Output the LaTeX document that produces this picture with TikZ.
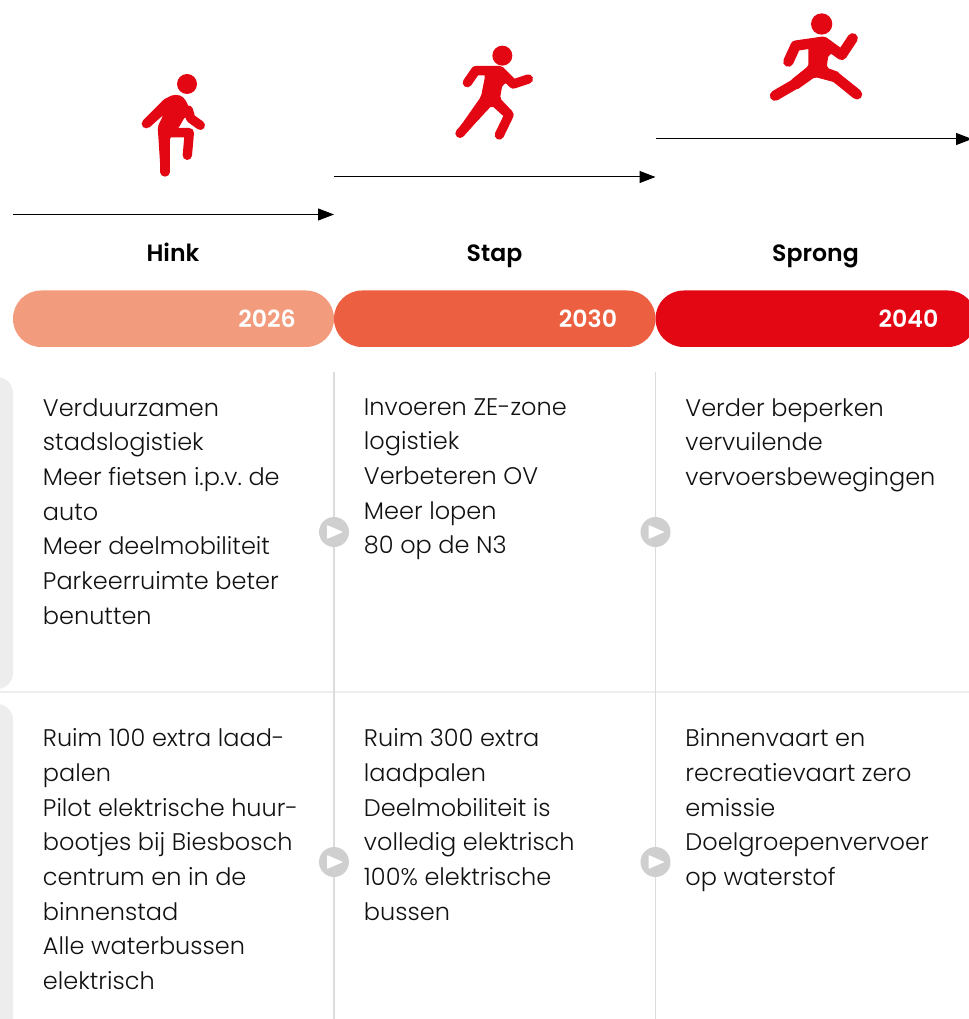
\documentclass[tikz,border=0pt]{standalone}
\usepackage{fontspec}
\setmainfont{Poppins Light}
\newfontfamily\semi{Poppins SemiBold}
\usetikzlibrary{arrows.meta}
\definecolor{redA}{HTML}{F39B7D}
\definecolor{redB}{HTML}{EC5F40}
\definecolor{redC}{HTML}{E30613}
\definecolor{panel}{HTML}{EDEDED}
\definecolor{rule}{HTML}{DCDCDC}
\definecolor{ruleH}{HTML}{EEEEEE}
\definecolor{marker}{HTML}{CFCFCF}
\definecolor{ink}{HTML}{111111}
\tikzset{
  x=0.75pt,y=-0.75pt,
  year/.style={text=white,font=\fontsize{17.7}{20}\selectfont\semi,inner sep=0pt,anchor=base},
  phase/.style={text=black,font=\fontsize{17.7}{20}\selectfont\semi,inner sep=0pt,anchor=base},
  body/.style={text=ink,font=\fontsize{18}{26}\selectfont\frenchspacing,align=left,anchor=north west,inner sep=0pt},
  stage/.style={-{Triangle[length=12pt,width=9pt]},line width=0.75pt,black},
  limb/.style={draw=redC,line width=7pt,line cap=round,line join=round},
  limbB/.style={draw=redC,line width=7.8pt,line cap=round,line join=round},
  markdisc/.style={circle,fill=marker,minimum size=22.5pt,inner sep=0pt},
  tri/.style={fill=white,rounded corners=0.6pt},
  vrule/.style={draw=rule,line width=1.1pt},
  torso/.style={fill=redC,rounded corners=1.5pt},
}
\begin{document}
\begin{tikzpicture}
\useasboundingbox (0,0) rectangle (969,1019);
% panels
\fill[panel,rounded corners=12pt] (-30,377) rectangle (13,689);
\fill[panel,rounded corners=12pt] (-30,704) rectangle (13,1060);
% rules
\coordinate (h1) at (0,692); \coordinate (h2) at (969,692);
\draw[ruleH,line width=0.8pt] (h1) -- (h2);
\coordinate (v1t) at (334,372); \coordinate (v1b) at (334,1019);
\coordinate (v2t) at (655.5,372); \coordinate (v2b) at (655.5,1019);
\draw[vrule] (v1t) -- (v1b);
\draw[vrule] (v2t) -- (v2b);
% markers
\foreach \n/\cx/\cy in {a/334/532,b/655.5/532,c/334/862,d/655.5/862}{
  \node[markdisc] (m\n) at (\cx,\cy) {};
  \fill[tri] ([shift={(-7,-7)}]m\n.center) -- ([shift={(9,0)}]m\n.center) -- ([shift={(-7,7)}]m\n.center) -- cycle;
}
% stage arrows
\coordinate (a1) at (13,214.5); \coordinate (a2) at (334,214.5);
\coordinate (b1) at (334,177); \coordinate (b2) at (655.5,177);
\coordinate (c1) at (655.5,139); \coordinate (c2) at (972,139);
\draw[stage] (a1) -- (a2);
\draw[stage] (b1) -- (b2);
\draw[stage] (c1) -- (c2);
% headers
\node[phase] (hink) at (173,262) {Hink};
\node[phase] (stap) at (494.5,262) {Stap};
\node[phase] (sprong) at (815.5,262) {Sprong};
% pills
\fill[redA,rounded corners=21pt] (13,290.5) rectangle (334,347);
\fill[redB,rounded corners=21pt] (334,290.5) rectangle (655.5,347);
\fill[redC,rounded corners=21pt] (655.5,290.5) rectangle (976,347);
\node[year] (y1) at (267,328) {2026};
\node[year] (y2) at (588,328) {2030};
\node[year] (y3) at (908.5,328) {2040};
% figure 1
\begin{scope}[shift={(120,60)},x=0.25pt,y=-0.25pt]
  \fill[redC] (201,72) circle[radius=30];
  \draw[limb] (79,191) -- (140,130);
  \draw[limb] (205,150) -- (212,175) -- (241,196);
  \draw[limb] (135,205) -- (135,336);
  \draw[limb] (150,218) -- (208,218) -- (202,286);
  \fill[torso] (128,120) -- (160,104) -- (185,107) -- (200,125) -- (216,172) -- (195,170) -- (175,205) -- (150,232) -- (148,336) -- (122,336) -- (113,200) -- (130,165) -- (85,205) -- cycle;
\end{scope}
% figure 2
\begin{scope}[shift={(445,35)},x=0.25pt,y=-0.25pt]
  \fill[redC] (172,62) circle[radius=30];
  \draw[limb] (67,143) -- (92,107) -- (165,107) -- (205,147) -- (250,132);
  \draw[limb] (45,295) -- (125,205);
  \draw[limb] (145,195) -- (192,240) -- (163,300);
  \fill[torso] (115,100) -- (165,95) -- (205,135) -- (172,150) -- (165,190) -- (205,232) -- (185,250) -- (140,212) -- (52,305) -- (38,285) -- (108,185) -- (120,125) -- cycle;
\end{scope}
% figure 3
\begin{scope}[shift={(760,5)},x=0.25pt,y=-0.25pt]
  \fill[redC] (185,57) circle[radius=32];
  \draw[limbB] (85,170) -- (107,122) -- (190,110) -- (245,150) -- (278,100);
  \draw[limbB] (45,272) -- (100,240) -- (155,195);
  \draw[limbB] (170,200) -- (225,215) -- (291,268);
  \fill[torso] (145,115) -- (190,98) -- (240,140) -- (205,150) -- (200,188) -- (238,202) -- (225,232) -- (165,216) -- (110,255) -- (92,226) -- (145,185) -- cycle;
\end{scope}
% texts
\node[body] (t1) at (42.7,398) {Verduurzamen\\stadslogistiek\\Meer fietsen i.p.v. de\\auto\\Meer deelmobiliteit\\Parkeerruimte beter\\benutten};
\node[body] (t2) at (363.7,398) {Invoeren ZE-zone\\logistiek\\Verbeteren OV\\Meer lopen\\80 op de N3};
\node[body] (t3) at (685.2,398) {Verder beperken\\vervuilende\\vervoersbewegingen};
\node[body] (t4) at (42.7,728.5) {Ruim 100 extra laad-\\palen\\Pilot elektrische huur-\\bootjes bij Biesbosch\\centrum en in de\\binnenstad\\Alle waterbussen\\elektrisch};
\node[body] (t5) at (363.7,728.5) {Ruim 300 extra\\laadpalen\\Deelmobiliteit is\\volledig elektrisch\\100\% elektrische\\bussen};
\node[body] (t6) at (685.2,728.5) {Binnenvaart en\\recreatievaart zero\\emissie\\Doelgroepenvervoer\\op waterstof};
\end{tikzpicture}
\end{document}
